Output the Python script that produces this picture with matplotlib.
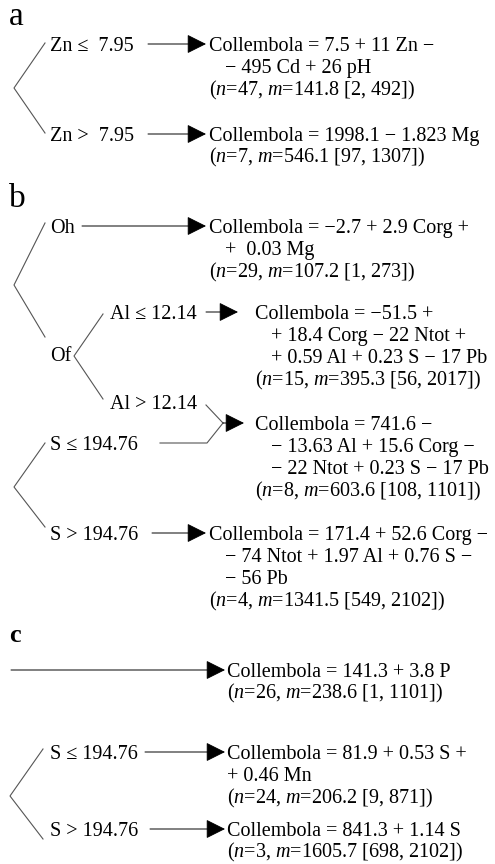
import matplotlib
matplotlib.use("Agg")
import matplotlib.pyplot as plt

plt.rcParams['font.family'] = ['Liberation Serif', 'DejaVu Serif']
plt.rcParams['mathtext.fontset'] = 'custom'
plt.rcParams['mathtext.rm'] = 'Liberation Serif'
plt.rcParams['mathtext.it'] = 'Liberation Serif:italic'

# panel labels
panel_names = ['a', 'b', 'c']

# split conditions
cond_a = ['Zn \u2264  7.95', 'Zn >  7.95']
cond_b = ['Oh', 'Of', 'Al \u2264 12.14', 'Al > 12.14', 'S \u2264 194.76', 'S > 194.76']
cond_c = ['S \u2264 194.76', 'S > 194.76']

# leaf models (lines of each equation) and stats
leaf_eq = [
    ['Collembola = 7.5 + 11 Zn \u2212', '\u2212 495 Cd + 26 pH'],
    ['Collembola = 1998.1 \u2212 1.823 Mg'],
    ['Collembola = \u22122.7 + 2.9 Corg +', '+  0.03 Mg'],
    ['Collembola = \u221251.5 +', '+ 18.4 Corg \u2212 22 Ntot +', '+ 0.59 Al + 0.23 S \u2212 17 Pb'],
    ['Collembola = 741.6 \u2212', '\u2212 13.63 Al + 15.6 Corg \u2212', '\u2212 22 Ntot + 0.23 S \u2212 17 Pb'],
    ['Collembola = 171.4 + 52.6 Corg \u2212', '\u2212 74 Ntot + 1.97 Al + 0.76 S \u2212', '\u2212 56 Pb'],
    ['Collembola = 141.3 + 3.8 P'],
    ['Collembola = 81.9 + 0.53 S +', '+ 0.46 Mn'],
    ['Collembola = 841.3 + 1.14 S'],
]
leaf_n = [47, 7, 29, 15, 8, 4, 26, 24, 3]
leaf_m = [141.8, 546.1, 107.2, 395.3, 603.6, 1341.5, 238.6, 206.2, 1605.7]
leaf_min = [2, 97, 1, 56, 108, 549, 1, 9, 698]
leaf_max = [492, 1307, 273, 2017, 1101, 2102, 1101, 871, 2102]

# layout (pixel coords, y down, y = middle of capitals)
leaf_xy = [(209, 44), (209, 134), (209, 226), (255, 312), (255, 423),
           (209, 533), (227, 670), (227, 752), (227, 829)]
leaf_indent = [16, 16, 16, 16, 16, 16, 0, 0, 0]
LINE = 22.3

fig = plt.figure(figsize=(4.95, 8.64), dpi=100)
ax = fig.add_axes([0, 0, 1, 1])
ax.set_xlim(0, 495)
ax.set_ylim(864, 0)
ax.axis('off')

FS = 14.5
GRAY = '#555555'


def txt(x, y, s, fs=FS, **kw):
    # y is the middle of the capitals, place on baseline
    ax.text(x, y + fs * 1.389 * 0.33, s, fontsize=fs, va='baseline', ha='left', **kw)


def branch(vx, vy, ux, uy, lx, ly):
    ax.plot([ux, vx, lx], [uy, vy, ly], color=GRAY, lw=0.8, solid_joinstyle='miter')


def arrow(x0, y0, x1, y1):
    ax.annotate('', xy=(x1, y1), xytext=(x0, y0),
                arrowprops=dict(arrowstyle='-|>,head_length=1.0,head_width=0.5',
                                mutation_scale=12, color='black', lw=0.7,
                                shrinkA=0, shrinkB=0))


# panel letters
ax.text(9, 25, panel_names[0], fontsize=24, va='baseline')
ax.text(9, 207, panel_names[1], fontsize=24, va='baseline')
ax.text(9, 642, panel_names[2], fontsize=19, fontweight='bold', va='baseline')

# panel a
branch(14, 88, 45, 43, 45, 133)
txt(50, 44, cond_a[0])
txt(50, 134, cond_a[1])
arrow(148, 44, 206, 44)
arrow(148, 134, 206, 134)

# panel b
branch(14, 285, 45, 223, 45, 337)
txt(50, 226, cond_b[0])
txt(50, 354, cond_b[1])
arrow(82, 226, 206, 226)
branch(74, 356, 103, 314, 103, 399)
txt(110, 312, cond_b[2])
txt(110, 402, cond_b[3])
arrow(206, 312, 238, 312)
ax.plot([206, 223], [405, 423], color=GRAY, lw=0.8)
ax.plot([160, 207, 223], [443, 443, 423], color=GRAY, lw=0.8)
arrow(223, 423, 244, 423)
branch(14, 487, 45, 443, 45, 527)
txt(50, 443, cond_b[4])
txt(50, 533, cond_b[5])
arrow(152, 533, 206, 533)

# panel c
arrow(11, 670, 225, 670)
branch(10, 796, 43, 749, 43, 839)
txt(50, 752, cond_c[0])
txt(50, 829, cond_c[1])
arrow(145, 752, 225, 752)
arrow(150, 829, 225, 829)

# leaves
for i, lines in enumerate(leaf_eq):
    x, y = leaf_xy[i]
    for k, s in enumerate(lines):
        txt(x + (leaf_indent[i] if k > 0 else 0), y + k * LINE, s)
    stat = '($n$=%d, $m$=%s [%d, %d])' % (leaf_n[i], leaf_m[i], leaf_min[i], leaf_max[i])
    txt(x, y + len(lines) * LINE, stat)

fig.savefig('out.png', dpi=100)
